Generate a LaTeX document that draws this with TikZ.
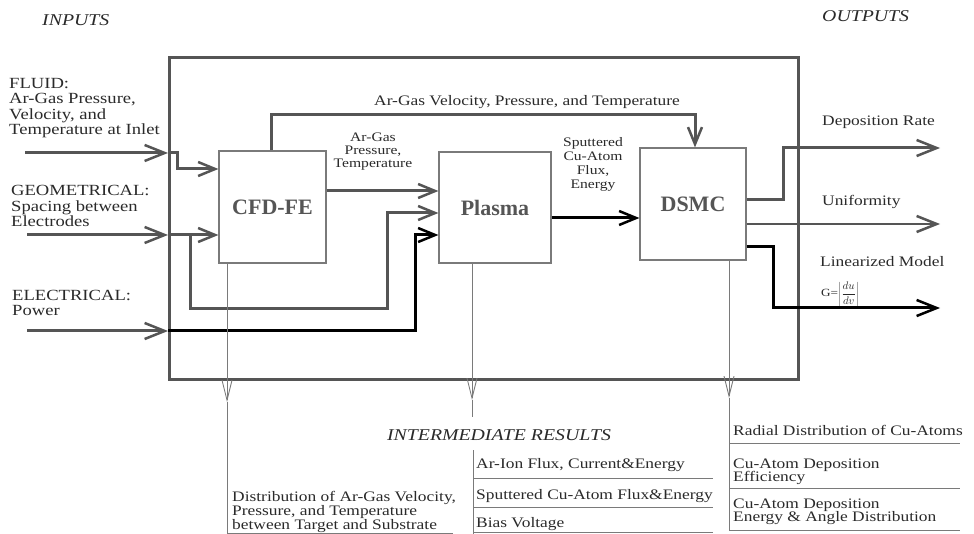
\documentclass[tikz,border=0pt]{standalone}
\usepackage{fontspec}
\setmainfont{Liberation Serif}[FakeStretch=1.2]
\newfontfamily\boxfont{Liberation Serif}
\usetikzlibrary{arrows.meta}
\definecolor{lg}{HTML}{555555}
\definecolor{tg}{HTML}{7a7a7a}
\definecolor{txt}{HTML}{2a2a2a}
\tikzset{
  thickln/.style={line width=3pt, draw=lg},
  blackln/.style={line width=3pt, draw=black},
  thinln/.style={line width=0.9pt, draw=tg},
  bigarrow/.style={-{Straight Barb[length=20pt,width=16pt,line width=2.5pt]}},
  midarrow/.style={-{Straight Barb[length=17pt,width=14pt,line width=2.5pt]}},
  vtip/.style={-{Straight Barb[length=20pt,width=10pt,line width=0.9pt]}},
  procbox/.style={draw=tg, line width=1.2pt, inner sep=0pt, text=lg,
    font=\boxfont\bfseries\fontsize{22}{24}\selectfont},
  lab/.style={inner sep=0pt, text=txt, font=\fontsize{14.5}{15}\selectfont},
  smlab/.style={inner sep=0pt, text=txt, align=center, font=\fontsize{13}{13.5}\selectfont},
  head/.style={inner sep=0pt, text=txt, font=\itshape\fontsize{16.5}{17}\selectfont},
}
\begin{document}
\begin{tikzpicture}[x=1pt,y=-1pt]
\useasboundingbox (0,0) rectangle (974,534);
\fill[white] (0,0) rectangle (974,534);

% headings
\node[head, anchor=west] (inputs) at (42,20) {INPUTS};
\node[head, anchor=west] (outputs) at (822,16) {OUTPUTS};

% outer frame
\node[draw=lg, line width=3pt, minimum width=629pt, minimum height=322pt,
      inner sep=0pt, anchor=north west] (frame) at (168,56) {};

% process boxes
\node[procbox, minimum width=107pt, minimum height=112pt] (cfd) at (272.5,207) {CFD-FE};
\node[procbox, minimum width=112pt, minimum height=111pt] (plasma) at (495,207.5) {Plasma};
\node[procbox, minimum width=106pt, minimum height=112pt] (dsmc) at (693,204) {DSMC};

% input labels
\node[lab, anchor=west, align=left, font=\fontsize{15.5}{15.5}\selectfont] (fluid) at (9,108)
  {FLUID:\\Ar-Gas Pressure,\\Velocity, and\\Temperature at Inlet};
\node[lab, anchor=west, align=left, font=\fontsize{15.5}{15.5}\selectfont] (geom) at (11,206)
  {GEOMETRICAL:\\Spacing between\\Electrodes};
\node[lab, anchor=west, align=left, font=\fontsize{15.5}{15.5}\selectfont] (elec) at (12,303)
  {ELECTRICAL:\\Power};

% input connectors
\coordinate (fin) at (25,153);
\coordinate (fj) at (177,153);
\draw[thickln, bigarrow] (fin) -- (fin -| frame.west);
\draw[thickln, midarrow] (fin -| frame.west) -- (fj) |- (cfd.west |- 0,169);

\coordinate (gin) at (27,235);
\coordinate (gb) at (190,235);
\draw[thickln, bigarrow] (gin) -- (gin -| frame.west);
\draw[thickln, midarrow] (gin -| frame.west) -- (cfd.west |- gin);
\draw[thickln, midarrow] (gb) -- (190,309) -- (387,309) |- (plasma.west |- 0,213);

\coordinate (ein) at (27,331);
\draw[thickln, bigarrow] (ein) -- (ein -| frame.west);
\draw[blackln, midarrow] (ein -| frame.west) -- (415,331) |- (plasma.west |- 0,235);

% internal connectors
\draw[thickln, midarrow] (cfd.east |- 0,191) -- (plasma.west |- 0,191);
\node[smlab, font=\fontsize{13}{13}\selectfont] (l1) at (373,152) {Ar-Gas\\Pressure,\\Temperature};

\draw[thickln, midarrow] (cfd.north -| 271,0) -- (271,115) -| (dsmc.north -| 695,0);
\node[lab] (l2) at (527,102) {Ar-Gas Velocity, Pressure, and Temperature};

\draw[blackln, midarrow] (plasma.east |- 0,218) -- (dsmc.west |- 0,218);
\node[smlab, font=\fontsize{13}{14}\selectfont] (l3) at (593,164) {Sputtered\\Cu-Atom\\Flux,\\Energy};

% outputs
\coordinate (o1) at (940,148);
\coordinate (o2) at (940,224);
\coordinate (o3) at (940,308);
\draw[thickln, bigarrow] (dsmc.east |- 0,200) -- (783,200) |- (o1);
\draw[line width=2pt, draw=lg, bigarrow] (dsmc.east |- 0,224) -- (o2);
\draw[blackln, bigarrow] (dsmc.east |- 0,247) -- (773,247) |- (o3);
\node[lab, anchor=west] (dep) at (822,122) {Deposition Rate};
\node[lab, anchor=west] (uni) at (822,202) {Uniformity};
\node[lab, anchor=west] (lin) at (820,262) {Linearized Model};
\node[lab, anchor=west, font=\fontsize{11}{11}\selectfont] (gform) at (821,294)
  {G=$\displaystyle\left|\frac{du}{dv}\right|$};

% thin result lines
\coordinate (t1a) at (227,402);
\coordinate (t1b) at (227,533);
\draw[thinln, vtip] (cfd.south -| t1a) -- (t1a);
\draw[thinln] (t1a) -- (t1b) -- (453,533);

\coordinate (t2a) at (472,400);
\coordinate (t2b) at (472,417);
\draw[thinln, vtip] (plasma.south -| t2a) -- (t2a);
\draw[thinln] (t2a) -- (t2b);

\coordinate (t3a) at (729,398);
\coordinate (t3b) at (729,531);
\draw[thinln, vtip] (dsmc.south -| t3a) -- (t3a);
\draw[thinln] (t3a) -- (t3b);

% intermediate results
\node[head] (inter) at (499,435) {INTERMEDIATE RESULTS};

\node[lab, anchor=west, align=left, font=\fontsize{14.5}{14}\selectfont] (distr) at (232,512)
  {Distribution of Ar-Gas Velocity,\\Pressure, and Temperature\\between Target and Substrate};

\coordinate (m0) at (473,450);
\coordinate (m1) at (473,534);
\draw[thinln] (m0) -- (m1);
\node[lab, anchor=west] (r1) at (476,465) {Ar-Ion Flux, Current\&Energy};
\node[lab, anchor=west] (r2) at (476,496) {Sputtered Cu-Atom Flux\&Energy};
\node[lab, anchor=west] (r3) at (476,524) {Bias Voltage};
\draw[thinln] (473,478) -- (713,478);
\draw[thinln] (473,507) -- (713,507);
\draw[thinln] (473,532) -- (713,532);

\node[lab, anchor=west] (d1) at (733,430) {Radial Distribution of Cu-Atoms};
\node[lab, anchor=west, align=left, font=\fontsize{14.5}{13.5}\selectfont] (d2) at (733,472)
  {Cu-Atom Deposition\\Efficiency};
\node[lab, anchor=west, align=left, font=\fontsize{14.5}{13.5}\selectfont] (d3) at (733,512)
  {Cu-Atom Deposition\\Energy \& Angle Distribution};
\draw[thinln] (729,443) -- (960,443);
\draw[thinln] (729,488) -- (960,488);
\draw[thinln] (729,530) -- (960,530);
\end{tikzpicture}
\end{document}
